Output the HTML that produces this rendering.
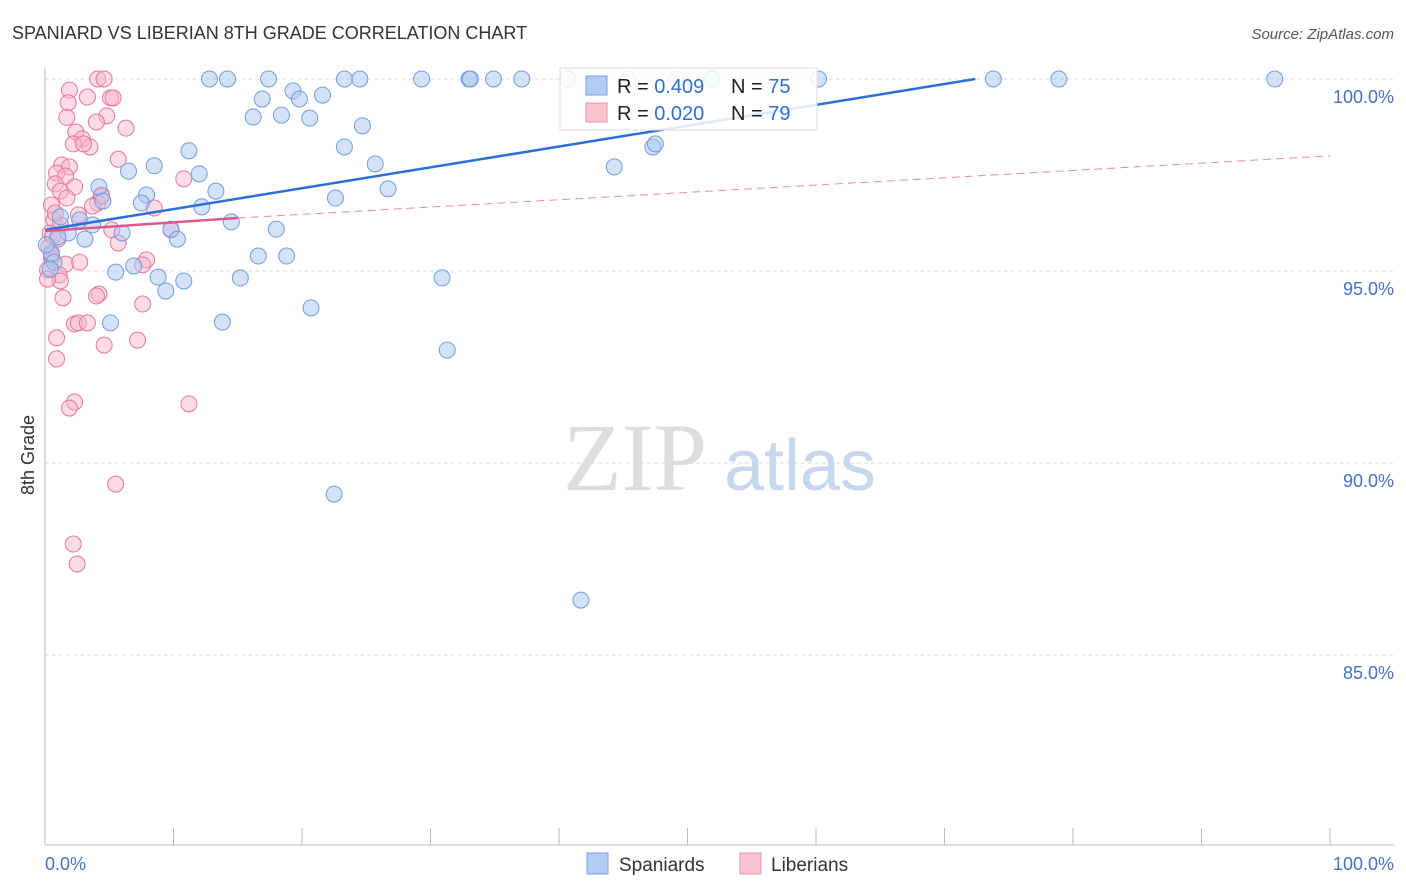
<!DOCTYPE html>
<html><head><meta charset="utf-8"><style>
body{margin:0;background:#fff;font-family:"Liberation Sans",sans-serif}
svg{display:block}
</style></head><body>
<svg width="1406" height="892">
<text x="12" y="39" font-size="18" fill="#333">SPANIARD VS LIBERIAN 8TH GRADE CORRELATION CHART</text>
<text x="1394" y="39" font-size="15" fill="#555" font-style="italic" text-anchor="end">Source: ZipAtlas.com</text>
<g id="grid"></g>
<text x="635" y="490" font-size="96" font-family="Liberation Serif" fill="#ddd" text-anchor="middle">ZIP</text>
<text x="800" y="490" font-size="72" fill="#c7d7ee" text-anchor="middle">atlas</text>
<g id="axes"></g>
<g id="pts"></g>
<g id="lines"></g>
<text x="34" y="455" font-size="18" fill="#333" text-anchor="middle" transform="rotate(-90 34 455)">8th Grade</text>
<text x="45" y="870" font-size="18" fill="#4472c4">0.0%</text>
<text x="1394" y="870" font-size="18" fill="#4472c4" text-anchor="end">100.0%</text>
<g>
<rect x="560" y="68" width="257" height="62" fill="#fff" fill-opacity="0.85" stroke="#ddd"/>
<rect x="586" y="76" width="21" height="19" fill="#b3cdf2" stroke="#7aa3e0"/>
<rect x="586" y="103" width="21" height="19" fill="#f9c4d2" stroke="#ea92ae"/>
<text x="617" y="93" font-size="20" fill="#222">R = <tspan fill="#2f6fd0">0.409</tspan></text>
<text x="731" y="93" font-size="20" fill="#222">N = <tspan fill="#2f6fd0">75</tspan></text>
<text x="617" y="120" font-size="20" fill="#222">R = <tspan fill="#2f6fd0">0.020</tspan></text>
<text x="731" y="120" font-size="20" fill="#222">N = <tspan fill="#2f6fd0">79</tspan></text>
</g>
<g><rect x="587" y="853" width="21" height="21" fill="#b3cdf2" stroke="#7aa3e0"/><text x="619" y="871" font-size="19" fill="#333">Spaniards</text></g>
<g><rect x="740" y="853" width="21" height="21" fill="#f9c4d2" stroke="#ea92ae"/><text x="771" y="871" font-size="19" fill="#333">Liberians</text></g>
</svg>
<script>
const yTicks=[100,95,90,85];
const xTicks=[0,10,20,30,40,50,60,70,80,90,100];
const blueX=[12.8,14.2,17.4,23.3,24.5,29.3,33,33.1,34.9,37.1,40.7,45.4,49.1,51.9,60.2,73.8,78.9,95.7,19.3,16.9,19.8,21.6,16.2,18.4,20.6,24.7,11.2,23.3,25.7,8.5,6.5,12,4.2,13.3,7.9,4.5,26.7,22.6,7.5,12.2,44.3,47.3,47.5,1.2,2.7,3.7,14.5,18,9.8,6,1.8,1,3.1,10.3,0.5,0.7,16.6,18.8,5.5,6.9,8.8,10.8,15.2,9.4,30.9,20.7,5.1,13.8,31.3,22.5,41.7,0.1,0.4];
const blueY=[100,100,100,100,100,100,100,100,100,100,100,100,100,100,100,100,100,100,99.69,99.48,99.48,99.58,99.01,99.06,98.98,98.78,98.13,98.23,97.79,97.74,97.6,97.53,97.19,97.08,96.98,96.82,97.14,96.9,96.77,96.67,97.71,98.23,98.31,96.41,96.33,96.2,96.28,96.09,96.09,95.99,95.99,95.89,95.83,95.83,95.47,95.23,95.39,95.39,94.97,95.13,94.84,94.74,94.82,94.48,94.82,94.04,93.65,93.67,92.94,89.19,86.43,95.68,95.05];
const pinkX=[4.1,4.6,1.9,1.8,5.1,3.3,5.3,1.7,4.8,4,6.3,2.4,2.9,2.2,3.5,3,5.7,1.3,1.9,0.9,1.6,0.8,2.3,1.2,4.4,4.1,1.7,0.5,3.7,8.5,9.8,10.8,5.2,2.6,0.7,1.2,0.4,5.7,0.5,1.6,0.2,1.1,2.7,0.3,7.9,7.6,0.5,1.2,4.2,4,1.4,7.6,2.3,2.6,3.3,0.9,7.2,4.6,0.9,2.3,1.9,11.2,5.5,2.2,2.5,4.4,0.8,0.6,1,0.2];
const pinkY=[100,100,99.71,99.38,99.51,99.53,99.51,99,99.04,98.88,98.72,98.62,98.44,98.31,98.23,98.31,97.91,97.76,97.71,97.55,97.47,97.27,97.19,97.08,96.98,96.77,96.9,96.72,96.69,96.64,96.07,97.4,96.07,96.46,96.33,96.2,95.99,95.73,95.34,95.18,95.03,94.9,95.23,95.62,95.29,95.16,95.42,94.74,94.4,94.35,94.3,94.14,93.62,93.65,93.65,93.26,93.2,93.07,92.71,91.59,91.43,91.54,89.45,87.89,87.37,96.95,96.51,95.91,95.83,94.79];
const x0=45,x1=1330,y100=79,pxPerPct=38.4;
const sx=v=>x0+v*(x1-x0)/100, sy=v=>y100+(100-v)*pxPerPct;
const NS='http://www.w3.org/2000/svg';
function mk(tag,attrs,parent){const e=document.createElementNS(NS,tag);for(const k in attrs)e.setAttribute(k,attrs[k]);document.getElementById(parent).appendChild(e);return e;}
yTicks.forEach(t=>{
const l=mk('line',{x1:45,x2:1394,y1:sy(t),y2:sy(t),stroke:'#ddd','stroke-dasharray':'4 3'},'grid');


const tx=mk('text',{x:1394,y:sy(t)+24,'font-size':18,fill:'#4472c4','text-anchor':'end'},'grid');
tx.textContent=t.toFixed(1)+'%';


});
const ax=mk('line',{x1:45,x2:45,y1:68,y2:845,stroke:'#bbb'},'axes');


const bx=mk('line',{x1:45,x2:1394,y1:845,y2:845,stroke:'#bbb'},'axes');


xTicks.forEach(t=>{
const l=mk('line',{x1:sx(t),x2:sx(t),y1:828,y2:845,stroke:'#bbb'},'axes');


});
function pts(X,Y,fill,stroke,name){X.forEach((x,i)=>{
const c=mk('circle',{cx:sx(x),cy:sy(Y[i]),r:8,fill:fill,'fill-opacity':0.5,stroke:stroke,'stroke-width':1},'pts');


});}
pts(pinkX,pinkY,'#f7b8cb','#e8769c','liberian-point');
pts(blueX,blueY,'#a9c6ef','#6f9ddf','spaniard-point');
const bl=mk('line',{x1:sx(0),y1:sy(96.07),x2:sx(72.4),y2:sy(100),stroke:'#2a6fd6','stroke-width':2.5},'lines');


const pl=mk('line',{x1:sx(0),y1:sy(96.04),x2:sx(15),y2:sy(96.38),stroke:'#e0588a','stroke-width':2.5},'lines');


const pd=mk('line',{x1:sx(15),y1:sy(96.38),x2:sx(100),y2:sy(98.0),stroke:'#e88aa8','stroke-width':1,'stroke-dasharray':'8 5'},'lines');


</script>
</body></html>
